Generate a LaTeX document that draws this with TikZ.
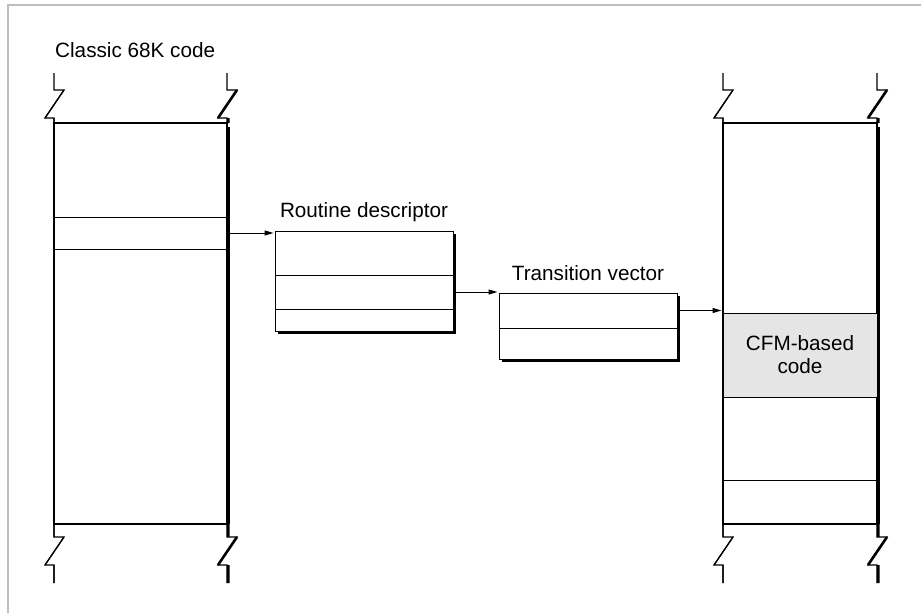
\documentclass[tikz,border=0pt]{standalone}
\usepackage{fontspec}
\setmainfont{Liberation Sans}
\usepackage{tikz}
\usetikzlibrary{positioning,shadows,arrows.meta}

\definecolor{frameGray}{RGB}{190,190,190}
\definecolor{cfmGray}{RGB}{229,229,229}

\tikzset{
  lbl/.style={inner sep=0pt, font=\fontsize{20.7}{23}\selectfont},
  memcol/.style={draw, line width=1.2pt, inner sep=0pt, outer sep=0pt, minimum width=173pt, minimum height=401pt, anchor=north west},
  slot/.style={draw, line width=1pt, inner sep=0pt, outer sep=0pt},
  field/.style={draw, line width=1pt, fill=white, inner sep=0pt, outer sep=0pt, minimum width=178pt,
    drop shadow={shadow xshift=3pt, shadow yshift=-3pt, fill=black, opacity=1}},
  brk/.style={line width=1.2pt},
  link/.style={->, >={Triangle[length=9pt,width=5pt]}, line width=1pt, shorten >=1.5pt}
}

\begin{document}
\begin{tikzpicture}[x=1pt,y=-1pt]
\useasboundingbox (0,0) rectangle (921,613);
\draw[line width=1.5pt, color=frameGray] (8,613) -- (8,5) -- (921,5);

% old code column
\node[memcol] (oldcode) at (54,123) {};
\node[slot, minimum width=173pt, minimum height=32pt] (oldslot) at (140.5,233) {};
\draw[line width=2.6pt] ([xshift=1.2pt,yshift=-4pt]oldcode.north east) -- ([xshift=1.2pt]oldcode.south east);
\node[lbl, anchor=base west] (oldlabel) at (55,57) {Classic 68K code};

% routine descriptor
\node[field, minimum height=44pt, anchor=north west] (rdA) at (275,231) {};
\node[field, minimum height=34pt, below=0pt of rdA] (rdB) {};
\node[field, minimum height=22pt, below=0pt of rdB] (rdC) {};
\node[lbl, above=14pt of rdA, anchor=base] (rdlabel) {Routine descriptor};

% transition vector
\node[field, minimum height=35pt, anchor=north west] (tvA) at (499,293) {};
\node[field, minimum height=31pt, below=0pt of tvA] (tvB) {};
\node[lbl, above=13pt of tvA, anchor=base] (tvlabel) {Transition vector};

% new code column
\node[memcol, minimum width=154pt] (newcode) at (723,123) {};
\node[slot, lbl, fill=cfmGray, minimum width=154pt, minimum height=84pt, align=center] (cfm) at (800,355) {CFM-based\\code};
\draw[line width=1pt] (newcode.west |- 0,480) -- (newcode.east |- 0,480);
\draw[line width=2.6pt] ([xshift=1.2pt,yshift=-4pt]newcode.north east) -- ([xshift=1.2pt]newcode.south east);

% breaks
\foreach \x/\s/\w in {54/0/1.2, 227/1.2/2.6, 723/0/1.2, 877/1.2/2.6} {
  \draw[brk] (\x,73) -- (\x,90) -- (\x+10,90) -- (\x-9,118) -- (\x,118) -- (\x,123);
  \draw[brk] (\x,524) -- (\x,537) -- (\x+10,537) -- (\x-9,565) -- (\x,565) -- (\x,583);
  \draw[line width=\w] (\x+10,90) -- (\x-9,118) (\x+\s,118) -- (\x+\s,123) (\x+\s,524) -- (\x+\s,537)
    (\x+10,537) -- (\x-9,565) (\x+\s,565) -- (\x+\s,583);
}

% links
\draw[link] (oldslot.east) -- (oldslot.east -| rdA.west);
\draw[link] (rdB.east) -- (rdB.east -| tvA.west);
\draw[link] (tvA.east) -- (tvA.east -| cfm.west);
\end{tikzpicture}
\end{document}
